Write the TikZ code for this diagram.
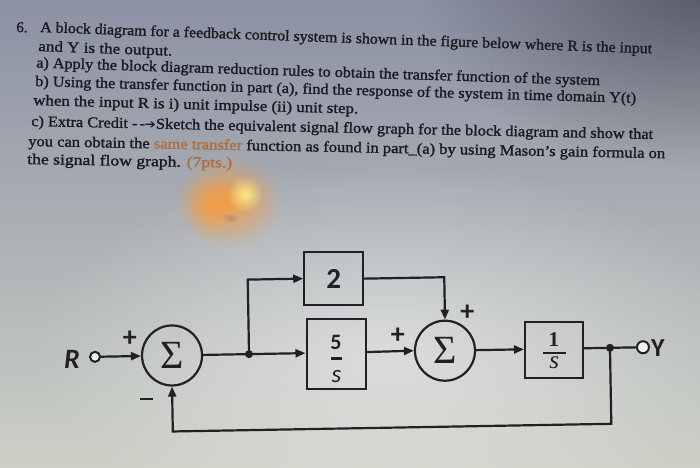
\documentclass[tikz,border=0pt]{standalone}
\usepackage{graphicx}
\usepackage{fontspec}
\setmainfont{Liberation Serif}
\newfontfamily\qfont{Liberation Serif}[FakeBold=1.4]
\newfontfamily\dfont{Carlito}
\newfontfamily\sfont{Liberation Serif}
\newfontfamily\symfont{DejaVu Sans}
\usetikzlibrary{arrows.meta,fadings,calc}
\tikzfading[name=glowfade, inner color=transparent!0, outer color=transparent!100]
\definecolor{bgtop}{RGB}{140,145,164}
\definecolor{bgmid}{RGB}{190,196,208}
\definecolor{bgbot}{RGB}{204,208,198}
\definecolor{txt}{RGB}{26,26,32}
\definecolor{glare}{RGB}{175,110,60}
\definecolor{ink}{RGB}{32,32,38}
\definecolor{orangeglow}{RGB}{245,158,68}
\definecolor{yellowglow}{RGB}{255,236,130}
\tikzset{
  qline/.style={anchor=base west, inner sep=0pt, text=txt, font=\qfont\fontsize{15}{18}\selectfont},
  ln/.style={draw=ink, line width=2.2pt},
  arr/.style={ln, -{Triangle[length=10pt,width=8pt]}},
  blk/.style={draw=ink, line width=2pt, inner sep=0pt},
  sumc/.style={circle, draw=ink, line width=2.2pt, minimum size=60pt, inner sep=0pt, text=ink, font=\sfont\fontsize{40}{40}\selectfont},
  opn/.style={circle, draw=ink, line width=2pt, fill=white!80!bgmid, inner sep=0pt},
  dot/.style={circle, fill=ink, inner sep=0pt, minimum size=8pt},
  sgn/.style={inner sep=0pt, text=ink, font=\dfont\bfseries\fontsize{28}{28}\selectfont},
  barsign/.style={fill=ink, inner sep=0pt, minimum width=13pt, minimum height=2.6pt},
}
\begin{document}
\begin{tikzpicture}[x=1pt,y=-1pt]
\useasboundingbox (0,0) rectangle (700,467);
% background of the photograph
\shade[top color=bgtop, middle color=bgmid, bottom color=bgbot] (0,0) rectangle (700,467);
\fill[black, opacity=0.35, path fading=glowfade] (700,0) ellipse (280 and 170);
\fill[white, opacity=0.45, path fading=glowfade] (390,350) ellipse (360 and 190);
% glare
\fill[orangeglow, opacity=0.95, path fading=glowfade] (228,202) ellipse (54 and 46);
\fill[orangeglow, opacity=0.9, path fading=glowfade] (212,205) circle (28);
\fill[yellowglow, opacity=0.95, path fading=glowfade] (245,194) circle (18);
\fill[gray, opacity=0.5, path fading=glowfade] (230,218) ellipse (9 and 5);

% question text
\node[qline, rotate=-2.0] (q0) at (16,32) {6.};
\node[qline, rotate=-2.0] (q1) at (40,32) {\resizebox{612pt}{\height}{A block diagram for a feedback control system is shown in the figure below where R is the input}};
\node[qline, rotate=-2.0] (q2) at (38,51) {\resizebox{134pt}{\height}{and Y is the output.}};
\node[qline, rotate=-1.8] (q3) at (36,67.5) {\resizebox{564pt}{\height}{a) Apply the block diagram reduction rules to obtain the transfer function of the system}};
\node[qline, rotate=-1.6] (q4) at (35,86) {\resizebox{601pt}{\height}{b) Using the transfer function in part (a), find the response of the system in time domain Y(t)}};
\node[qline, rotate=-1.5] (q5) at (33,105) {\resizebox{325pt}{\height}{when the input R is i) unit impulse (ii) unit step.}};
\node[qline, rotate=-1.2] (q6) at (31,126) {\resizebox{622pt}{\height}{c) Extra Credit -\hspace{2pt}-{\symfont\fontsize{12}{12}\selectfont ➔}Sketch the equivalent signal flow graph for the block diagram and show that}};
\node[qline, rotate=-1.1] (q7) at (28,146) {\resizebox{637pt}{\height}{you can obtain the {\color{glare}same transfer} function as found in part\_(a) by using Mason’s gain formula on}};
\node[qline, rotate=-1.0] (q8) at (27,164) {\resizebox{205pt}{\height}{the signal flow graph. {\color{glare}(7pts.)}}};

% block diagram
\begin{scope}[rotate around={1:(370,352)}]
  \node[opn, minimum size=10pt] (rin) at (95,352) {};
  \node[anchor=east, inner sep=0pt, text=ink, font=\dfont\bfseries\itshape\fontsize{28}{28}\selectfont] (rl) at (80,354) {R};
  \node[sumc] (s1) at (172,352) {Σ};
  \coordinate (j1) at (249,352);
  \node[blk, minimum width=59pt, minimum height=53pt, text=ink, font=\dfont\bfseries\fontsize{29}{29}\selectfont] (b2) at (335,278) {2};
  \node[blk, minimum width=59pt, minimum height=70pt] (b5) at (336,353.5) {};
  \node[inner sep=0pt, text=ink, font=\dfont\bfseries\fontsize{22}{22}\selectfont] (b5n) at ($(b5.center)+(0,-12)$) {5};
  \node[fill=ink, inner sep=0pt, minimum width=11pt, minimum height=2.4pt] (b5bar) at ($(b5.center)+(0,4.5)$) {};
  \node[inner sep=0pt, text=ink, font=\dfont\itshape\fontsize{25}{25}\selectfont] (b5d) at ($(b5.center)+(0,22)$) {s};
  \node[sumc] (s2) at (445,352) {Σ};
  \node[blk, minimum width=58pt, minimum height=56pt] (b1) at (554,353) {};
  \node[inner sep=0pt, text=ink, font=\sfont\bfseries\fontsize{21}{21}\selectfont] (b1n) at ($(b1.center)+(0,-10.5)$) {1};
  \node[fill=ink, inner sep=0pt, minimum width=23pt, minimum height=2.2pt] (b1bar) at ($(b1.center)+(0,3)$) {};
  \node[inner sep=0pt, text=ink, font=\sfont\itshape\fontsize{25}{25}\selectfont] (b1d) at ($(b1.center)+(0,12.5)$) {s};
  \coordinate (j2) at (610,352);
  \node[opn, minimum size=12pt] (yout) at (643,352) {};
  \node[anchor=west, inner sep=0pt, text=ink, font=\dfont\bfseries\fontsize{26}{26}\selectfont] (yl) at (651,353) {Y};
  \coordinate (fb) at (610,428);

  \draw[arr] (rin) -- (s1);
  \draw[ln] (s1) -- (j1);
  \draw[arr] (j1) -- (j1 -| b5.west);
  \draw[arr] (j1) |- (b2.west);
  \draw[arr] (b2.east) -| (s2.north);
  \draw[arr] (b5.east |- s2) -- (s2.west);
  \draw[arr] (s2) -- (b1.west |- s2);
  \draw[ln] (b1.east |- j2) -- (j2) -- (yout);
  \draw[arr] (j2) -- (fb) -| (s1.south);
  \node[dot] (d1) at (j1) {};
  \node[dot] (d2) at (j2) {};

  \node[sgn] (p1) at (130,335) {+};
  \node[barsign] (m1) at (146,395) {};
  \node[sgn] (p2) at (468,314) {+};
  \node[sgn] (p3) at (398,336) {+};
\end{scope}
\end{tikzpicture}
\end{document}
